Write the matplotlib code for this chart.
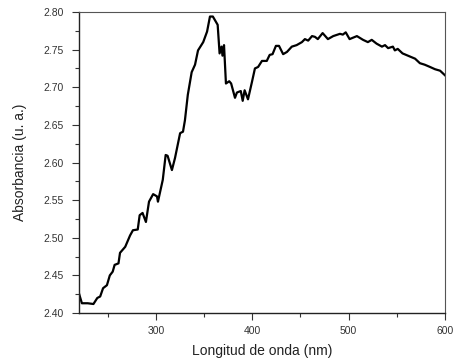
import matplotlib
matplotlib.use("Agg")
import matplotlib.pyplot as plt
from matplotlib.ticker import MultipleLocator

wavelength = [220, 223, 229, 235, 239, 242, 245, 249, 252, 255, 257, 261, 262.6, 268, 273,
              276, 281, 283, 286, 289.5, 292.7, 297, 301, 302, 307, 310, 312, 316.5, 319.7,
              325, 328, 330, 333, 337, 340.5, 343.6, 349, 353, 356, 359, 364, 366, 368, 369,
              370.6, 372.6, 376, 378, 382, 384, 388, 390, 392, 395.5, 399.6, 402.7, 406, 410,
              415, 418, 421, 424.5, 427.7, 432, 436, 441, 446, 451.5, 454.6, 458, 462, 465,
              468, 473, 478.5, 484, 491, 494, 497, 501, 508.6, 515, 520, 524, 529, 534.6,
              537.8, 541, 546, 548, 551, 556, 563.4, 569, 574, 579, 584.5, 589.7, 595, 600]
absorbance = [2.426, 2.413, 2.413, 2.412, 2.420, 2.422, 2.433, 2.437, 2.450, 2.455, 2.464,
              2.466, 2.480, 2.488, 2.503, 2.510, 2.511, 2.530, 2.533, 2.521, 2.548, 2.558,
              2.555, 2.548, 2.577, 2.610, 2.609, 2.590, 2.606, 2.639, 2.641, 2.656, 2.690,
              2.720, 2.730, 2.749, 2.760, 2.774, 2.794, 2.794, 2.783, 2.745, 2.754, 2.742,
              2.756, 2.705, 2.708, 2.705, 2.686, 2.693, 2.695, 2.682, 2.696, 2.684, 2.707,
              2.725, 2.727, 2.735, 2.735, 2.743, 2.744, 2.755, 2.755, 2.744, 2.747, 2.754,
              2.756, 2.760, 2.764, 2.762, 2.768, 2.767, 2.764, 2.772, 2.764, 2.768, 2.771,
              2.770, 2.773, 2.764, 2.768, 2.763, 2.760, 2.763, 2.758, 2.754, 2.756, 2.752,
              2.754, 2.749, 2.751, 2.745, 2.741, 2.738, 2.732, 2.730, 2.727, 2.724, 2.722,
              2.716]

plt.rcParams['font.family'] = ['Liberation Sans', 'DejaVu Sans']

fig = plt.figure(figsize=(4.54, 3.64), dpi=100)
ax = fig.add_axes([0.174, 0.140, 0.806, 0.827])
ax.plot(wavelength, absorbance, color='black', linewidth=1.6)
ax.set_xlim(220, 600)
ax.set_ylim(2.40, 2.80)
ax.xaxis.set_minor_locator(MultipleLocator(50))
ax.yaxis.set_major_locator(MultipleLocator(0.05))
ax.yaxis.set_minor_locator(MultipleLocator(0.025))
ax.set_xticks([300, 400, 500, 600])
ax.yaxis.set_major_formatter(matplotlib.ticker.FormatStrFormatter('%.2f'))
ax.tick_params(which='major', direction='out', length=5, width=0.8, labelsize=7.5, colors='#333333')
ax.tick_params(axis='x', which='major', pad=4)
ax.tick_params(axis='y', which='major', pad=6)
ax.tick_params(which='minor', direction='out', length=3, width=0.8, colors='#333333')
ax.tick_params(top=False, right=False)
for s in ['left', 'bottom']:
    ax.spines[s].set_linewidth(1.0)
    ax.spines[s].set_color('#222222')
for s in ['top', 'right']:
    ax.spines[s].set_linewidth(0.8)
    ax.spines[s].set_color('#555555')
ax.set_xlabel('Longitud de onda (nm)', fontsize=10, color='#222222', labelpad=6)
ax.set_ylabel('Absorbancia (u. a.)', fontsize=10, color='#222222', labelpad=12)
fig.savefig('out.png', dpi=100)
